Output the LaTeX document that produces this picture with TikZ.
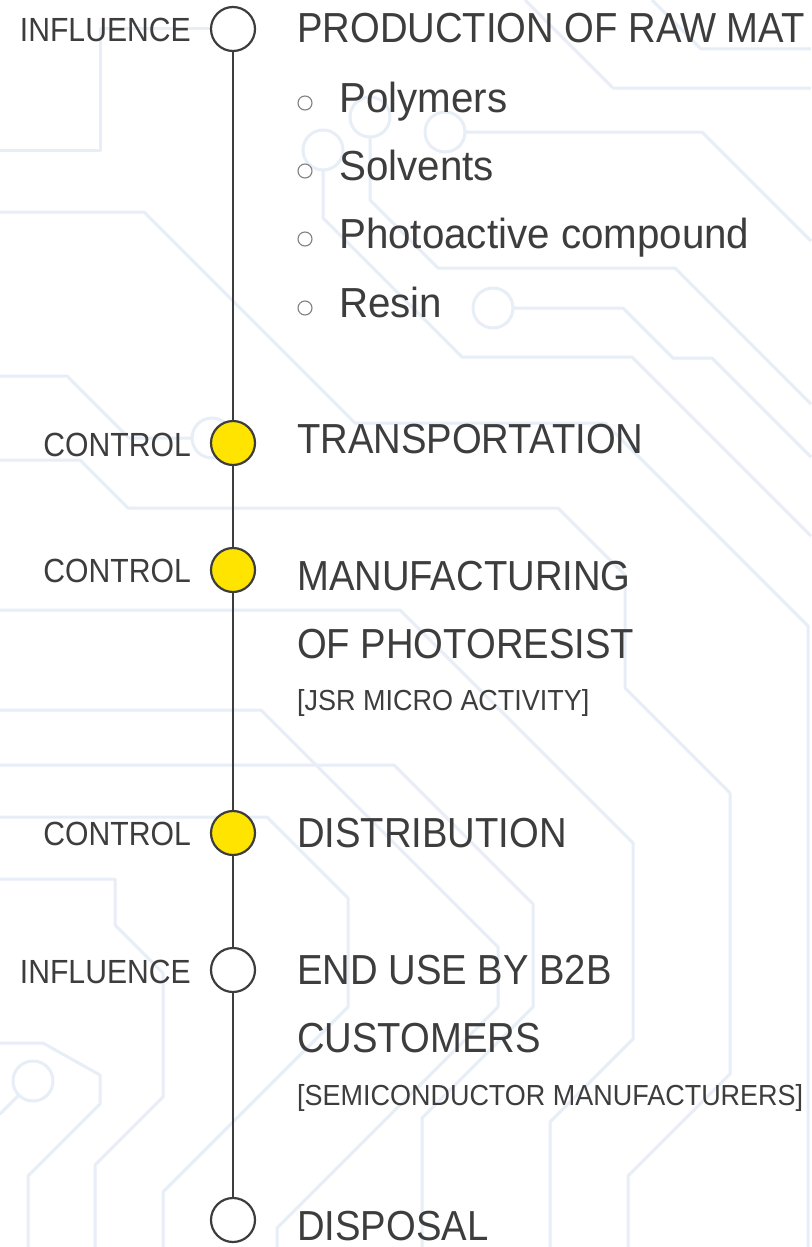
\documentclass[tikz,border=0pt]{standalone}
\usepackage{fontspec}
\setmainfont{Liberation Sans}
\newfontfamily\headfont[FakeStretch=0.91]{Liberation Sans}
\newfontfamily\itemfont[FakeStretch=0.96]{Liberation Sans}
\newfontfamily\notefont[FakeStretch=0.93]{Liberation Sans}
\newfontfamily\sidefont[FakeStretch=0.90]{Liberation Sans}
\definecolor{inkgrey}{HTML}{3D3D3D}
\definecolor{tracebl}{HTML}{E7EEF7}
\definecolor{ctrlyellow}{HTML}{FFE400}

\begin{document}
\begin{tikzpicture}[x=1pt,y=-1pt,
    trace/.style={draw=tracebl,line width=3pt,line join=round},
    stage/.style={circle,draw=inkgrey,line width=2.2pt,fill=white,minimum size=44pt,inner sep=0pt},
    ctrl/.style={stage,fill=ctrlyellow},
    axis/.style={draw=inkgrey,line width=2.2pt},
    head/.style={inner sep=0pt,anchor=base west,text=inkgrey,font=\headfont\fontsize{42}{50}\selectfont},
    item/.style={inner sep=0pt,anchor=base west,text=inkgrey,font=\itemfont\fontsize{42}{50}\selectfont},
    note/.style={inner sep=0pt,anchor=base west,text=inkgrey,font=\notefont\fontsize{29}{34}\selectfont},
    side/.style={inner sep=0pt,anchor=base east,text=inkgrey,font=\sidefont\fontsize{33.5}{40}\selectfont},
    dot/.style={circle,draw=gray,line width=1.1pt,minimum size=14pt,inner sep=0pt}]
    \useasboundingbox[fill=white] (0,0) rectangle (811,1247);

    \draw[trace] (210,29) -- (100,29) -- (100,150) -- (0,150);
    \draw[trace] (0,212) -- (144,212) -- (355,423) -- (605,423) -- (808,626) -- (808,1247);
    \draw[trace] (0,376) -- (67,376) -- (129,438) -- (192,438);
    \draw[trace] (212,438) circle (20pt);
    \draw[trace] (0,460) -- (80,460) -- (128,508) -- (558,508) -- (625,575) -- (625,688) -- (730,793) -- (730,1074) -- (628,1176) -- (628,1247);
    \draw[trace] (0,610) -- (400,610) -- (633,843) -- (633,1039) -- (550,1122) -- (550,1247);
    \draw[trace] (0,710) -- (261,710) -- (498,947) -- (498,1007) -- (277,1228) -- (277,1247);
    \draw[trace] (0,765) -- (394,765) -- (533,904) -- (533,1007) -- (422,1118) -- (422,1247);
    \draw[trace] (0,817) -- (267,817) -- (348,898) -- (348,1007) -- (163,1192) -- (163,1247);
    \draw[trace] (0,879) -- (115,879) -- (115,925) -- (163,973) -- (163,1097) -- (95,1165) -- (95,1247);
    \draw[trace] (0,1043) -- (43,1043) -- (100,1075) -- (100,1104) -- (28,1176) -- (28,1247);
    \draw[trace] (33,1081) circle (20pt);
    \draw[trace] (19,1095) -- (0,1114);
    \draw[trace] (323,150) circle (20pt);
    \draw[trace] (323,170) -- (323,218) -- (462,357) -- (632,357) -- (811,536);
    \draw[trace] (370,117) circle (20pt);
    \draw[trace] (370,137) -- (370,200) -- (438,268) -- (675,268) -- (811,404);
    \draw[trace] (445,132) circle (20pt);
    \draw[trace] (465,132) -- (702,132) -- (811,241);
    \draw[trace] (493,308) circle (20pt);
    \draw[trace] (513,308) -- (623,308) -- (673,358) -- (712,358) -- (811,457);
    \draw[trace] (525,0) -- (613,88) -- (811,88);
    \draw[trace] (652,0) -- (701,49) -- (811,49);

    \node[stage] (raw) at (233,29) {};
    \node[ctrl] (transport) at (233,443) {};
    \node[ctrl] (making) at (233,570) {};
    \node[ctrl] (distrib) at (233,833) {};
    \node[stage] (enduse) at (233,970) {};
    \node[stage] (disposal) at (233,1220) {};

    \draw[axis] (raw) -- (transport);
    \draw[axis] (transport) -- (making);
    \draw[axis] (making) -- (distrib);
    \draw[axis] (distrib) -- (enduse);
    \draw[axis] (enduse) -- (disposal);

    \node[side] (infl1) at (191,42) {INFLUENCE};
    \node[side] (ctrl1) at (191,456) {CONTROL};
    \node[side] (ctrl2) at (191,582) {CONTROL};
    \node[side] (ctrl3) at (191,845) {CONTROL};
    \node[side] (infl2) at (191,983) {INFLUENCE};

    \node[head] (rawtxt) at (297,43) {PRODUCTION OF RAW MAT};
    \node[dot] (dot1) at (305,103) {};
    \node[item] (poly) at (339,112) {Polymers};
    \node[dot] (dot2) at (305,171) {};
    \node[item] (solv) at (339,180) {Solvents};
    \node[dot] (dot3) at (305,239) {};
    \node[item] (photo) at (339,248) {Photoactive compound};
    \node[dot] (dot4) at (305,308) {};
    \node[item] (resin) at (339,317) {Resin};

    \node[head] (transtxt) at (297,453) {TRANSPORTATION};
    \node[head] (maketxt) at (297,590) {MANUFACTURING};
    \node[head] (maketxt2) at (297,658) {OF PHOTORESIST};
    \node[note] (jsr) at (297,710) {[JSR MICRO ACTIVITY]};
    \node[head] (disttxt) at (297,847) {DISTRIBUTION};
    \node[head] (endtxt) at (297,984) {END USE BY B2B};
    \node[head] (endtxt2) at (297,1052) {CUSTOMERS};
    \node[note] (semi) at (297,1105) {[SEMICONDUCTOR MANUFACTURERS]};
    \node[head] (disptxt) at (297,1240) {DISPOSAL};
\end{tikzpicture}
\end{document}
